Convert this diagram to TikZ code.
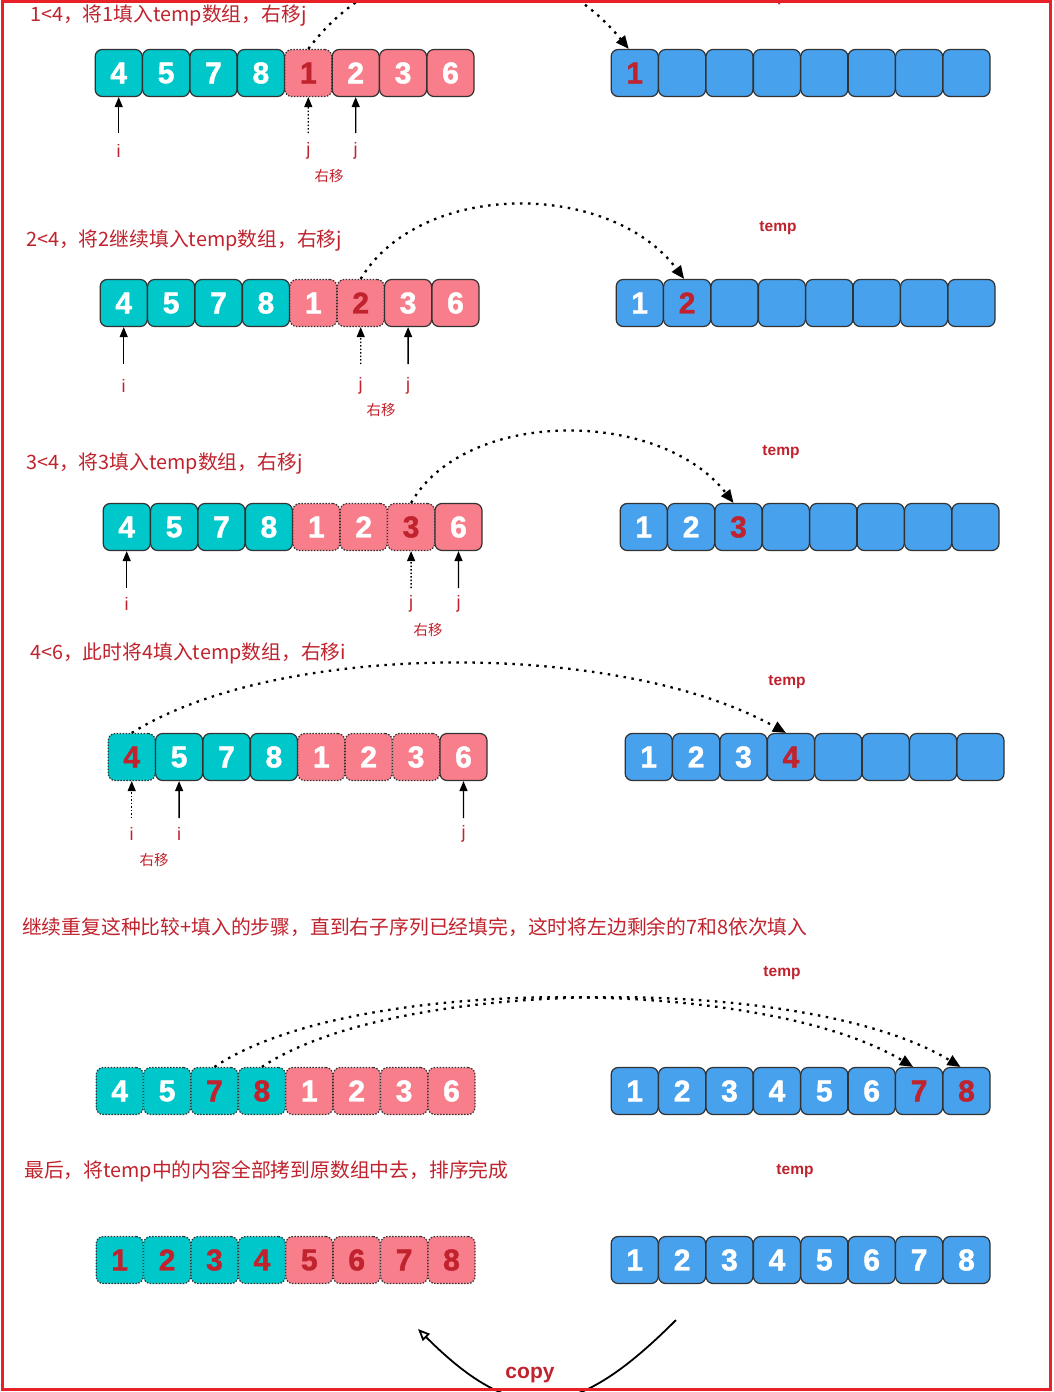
\documentclass[tikz,border=0pt]{standalone}
\usepackage{fontspec}
\setmainfont{Liberation Sans}
\newfontfamily\cjk{Noto Sans CJK SC}
\newfontfamily\numfont{Liberation Sans}[BoldFeatures={FakeBold=1.5}]
\usetikzlibrary{arrows.meta}
\definecolor{cteal}{RGB}{0,199,201}
\definecolor{cpink}{RGB}{247,126,138}
\definecolor{cblue}{RGB}{72,161,237}
\definecolor{cred}{RGB}{192,35,45}
\definecolor{cborder}{RGB}{50,50,50}
\definecolor{cframe}{RGB}{232,32,40}
\newcommand\arow[4]{%
  \foreach \v/\f/\t/\s [count=\k] in {#4} {%
    \node[cellbox,fill=\f,text=\t,\s] (#1\k) at ({#2+23.7+(\k-1)*47.4},#3) {\v};}}
\begin{document}
\begin{tikzpicture}[x=1pt,y=-1pt,
  cellbox/.style={minimum width=47pt,minimum height=47pt,inner sep=0pt,
    rounded corners=7pt,line width=1.2pt,font=\numfont\fontsize{30}{30}\selectfont\bfseries},
  solidbd/.style={draw=cborder},
  dotbd/.style={draw=cborder,dash pattern=on 1.5pt off 1.5pt},
  captxt/.style={anchor=west,inner sep=0pt,text=cred,font=\cjk\fontsize{19.8}{20}\selectfont},
  tmplbl/.style={text=cred,inner sep=0pt,font=\fontsize{15.5}{16}\selectfont\bfseries},
  ijlbl/.style={text=cred,inner sep=0pt,font=\fontsize{18}{18}\selectfont},
  mvlbl/.style={text=cred,inner sep=0pt,font=\cjk\fontsize{14.5}{15}\selectfont},
  ptrarr/.style={line width=1.3pt,-{Triangle[length=10pt,width=8pt]}},
  ptrdarr/.style={ptrarr,dash pattern=on 1.5pt off 2pt},
  jumparr/.style={line width=2.3pt,dash pattern=on 2.5pt off 5.5pt,-{Triangle[length=13pt,width=11pt]}},
  copyarr/.style={line width=1.8pt,-{Triangle[open,length=12pt,width=10pt]}}
]
\useasboundingbox (0,0) rectangle (1054,1392);
\fill[white] (0,0) rectangle (1054,1392);

% ---------- row 1 ----------
\node[captxt] (cap1) at (30,16) {1<4，将1填入temp数组，右移j};
\node[tmplbl,anchor=base] (tmp1) at (768,1.5) {temp};
\arow{r1a}{95}{73}{4/cteal/white/solidbd,5/cteal/white/solidbd,7/cteal/white/solidbd,8/cteal/white/solidbd,1/cpink/cred/dotbd,2/cpink/white/solidbd,3/cpink/white/solidbd,6/cpink/white/solidbd}
\arow{r1b}{611}{73}{1/cblue/cred/solidbd,{}/cblue/white/solidbd,{}/cblue/white/solidbd,{}/cblue/white/solidbd,{}/cblue/white/solidbd,{}/cblue/white/solidbd,{}/cblue/white/solidbd,{}/cblue/white/solidbd}
\coordinate (p1a) at (118.7,133);
\coordinate (p1b) at (308.3,133);
\coordinate (p1c) at (355.7,133);
\draw[ptrarr] (p1a) -- (r1a1.south);
\draw[ptrdarr] (p1b) -- (r1a5.south);
\draw[ptrarr] (p1c) -- (r1a6.south);
\node[ijlbl] (l1a) at (118.7,151) {i};
\node[ijlbl] (l1b) at (308.3,151) {j};
\node[ijlbl] (l1c) at (355.7,151) {j};
\node[mvlbl] (m1) at (329,176) {右移};
\draw[jumparr] (r1a5.north) .. controls (390,-60) and (540,-60) .. ([xshift=-6pt]r1b1.north);

% ---------- row 2 ----------
\node[captxt] (cap2) at (26,241) {2<4，将2继续填入temp数组，右移j};
\node[tmplbl] (tmp2) at (778,228) {temp};
\arow{r2a}{100}{303}{4/cteal/white/solidbd,5/cteal/white/solidbd,7/cteal/white/solidbd,8/cteal/white/solidbd,1/cpink/white/dotbd,2/cpink/cred/dotbd,3/cpink/white/solidbd,6/cpink/white/solidbd}
\arow{r2b}{616}{303}{1/cblue/white/solidbd,2/cblue/cred/solidbd,{}/cblue/white/solidbd,{}/cblue/white/solidbd,{}/cblue/white/solidbd,{}/cblue/white/solidbd,{}/cblue/white/solidbd,{}/cblue/white/solidbd}
\coordinate (p2a) at (123.7,364);
\coordinate (p2b) at (360.7,364);
\coordinate (p2c) at (408.1,364);
\draw[ptrarr] (p2a) -- (r2a1.south);
\draw[ptrdarr] (p2b) -- (r2a6.south);
\draw[ptrarr] (p2c) -- (r2a7.south);
\node[ijlbl] (l2a) at (123.7,386) {i};
\node[ijlbl] (l2b) at (360.7,386) {j};
\node[ijlbl] (l2c) at (408.1,386) {j};
\node[mvlbl] (m2) at (381,410) {右移};
\draw[jumparr] (r2a6.north) .. controls (420,180) and (610,180) .. ([xshift=-3pt]r2b2.north);

% ---------- row 3 ----------
\node[captxt] (cap3) at (26,464) {3<4，将3填入temp数组，右移j};
\node[tmplbl] (tmp3) at (781,452) {temp};
\arow{r3a}{103}{527}{4/cteal/white/solidbd,5/cteal/white/solidbd,7/cteal/white/solidbd,8/cteal/white/solidbd,1/cpink/white/dotbd,2/cpink/white/dotbd,3/cpink/cred/dotbd,6/cpink/white/solidbd}
\arow{r3b}{620}{527}{1/cblue/white/solidbd,2/cblue/white/solidbd,3/cblue/cred/solidbd,{}/cblue/white/solidbd,{}/cblue/white/solidbd,{}/cblue/white/solidbd,{}/cblue/white/solidbd,{}/cblue/white/solidbd}
\coordinate (p3a) at (126.7,588);
\coordinate (p3b) at (411.1,588);
\coordinate (p3c) at (458.5,588);
\draw[ptrarr] (p3a) -- (r3a1.south);
\draw[ptrdarr] (p3b) -- (r3a7.south);
\draw[ptrarr] (p3c) -- (r3a8.south);
\node[ijlbl] (l3a) at (126.7,604) {i};
\node[ijlbl] (l3b) at (411.1,604) {j};
\node[ijlbl] (l3c) at (458.5,604) {j};
\node[mvlbl] (m3) at (428,630) {右移};
\draw[jumparr] (r3a7.north) .. controls (465,408) and (660,408) .. ([xshift=-5pt]r3b3.north);

% ---------- row 4 ----------
\node[captxt] (cap4) at (30,653) {4<6，此时将4填入temp数组，右移i};
\node[tmplbl] (tmp4) at (787,682) {temp};
\arow{r4a}{108}{757}{4/cteal/cred/dotbd,5/cteal/white/solidbd,7/cteal/white/solidbd,8/cteal/white/solidbd,1/cpink/white/dotbd,2/cpink/white/dotbd,3/cpink/white/dotbd,6/cpink/white/solidbd}
\arow{r4b}{625}{757}{1/cblue/white/solidbd,2/cblue/white/solidbd,3/cblue/white/solidbd,4/cblue/cred/solidbd,{}/cblue/white/solidbd,{}/cblue/white/solidbd,{}/cblue/white/solidbd,{}/cblue/white/solidbd}
\coordinate (p4a) at (131.7,818);
\coordinate (p4b) at (179.1,818);
\coordinate (p4c) at (463.5,818);
\draw[ptrdarr] (p4a) -- (r4a1.south);
\draw[ptrarr] (p4b) -- (r4a2.south);
\draw[ptrarr] (p4c) -- (r4a8.south);
\node[ijlbl] (l4a) at (131.7,834) {i};
\node[ijlbl] (l4b) at (179.1,834) {i};
\node[ijlbl] (l4c) at (463.5,834) {j};
\node[mvlbl] (m4) at (154,860) {右移};
\draw[jumparr] (r4a1.north) .. controls (280,640) and (620,640) .. ([xshift=-5pt]r4b4.north);

% ---------- row 5 ----------
\node[captxt] (cap5) at (22,927) {继续重复这种比较+填入的步骤，直到右子序列已经填完，这时将左边剩余的7和8依次填入};
\node[tmplbl] (tmp5) at (782,973) {temp};
\arow{r5a}{96}{1091}{4/cteal/white/dotbd,5/cteal/white/dotbd,7/cteal/cred/dotbd,8/cteal/cred/dotbd,1/cpink/white/dotbd,2/cpink/white/dotbd,3/cpink/white/dotbd,6/cpink/white/dotbd}
\arow{r5b}{611}{1091}{1/cblue/white/solidbd,2/cblue/white/solidbd,3/cblue/white/solidbd,4/cblue/white/solidbd,5/cblue/white/solidbd,6/cblue/white/solidbd,7/cblue/cred/solidbd,8/cblue/cred/solidbd}
\draw[jumparr] (r5a3.north) .. controls (350,975) and (760,975) .. ([xshift=-6pt]r5b7.north);
\draw[jumparr] (r5a4.north) .. controls (400,975) and (810,975) .. ([xshift=-6pt]r5b8.north);

% ---------- row 6 ----------
\node[captxt] (cap6) at (24,1171) {最后，将temp中的内容全部拷到原数组中去，排序完成};
\node[tmplbl] (tmp6) at (795,1171) {temp};
\arow{r6a}{96}{1260}{1/cteal/cred/dotbd,2/cteal/cred/dotbd,3/cteal/cred/dotbd,4/cteal/cred/dotbd,5/cpink/cred/dotbd,6/cpink/cred/dotbd,7/cpink/cred/dotbd,8/cpink/cred/dotbd}
\arow{r6b}{611}{1260}{1/cblue/white/solidbd,2/cblue/white/solidbd,3/cblue/white/solidbd,4/cblue/white/solidbd,5/cblue/white/solidbd,6/cblue/white/solidbd,7/cblue/white/solidbd,8/cblue/white/solidbd}

% ---------- copy ----------
\coordinate (cs) at (676,1320);
\coordinate (ce) at (418,1329);
\draw[copyarr] (cs) .. controls (576,1420) and (518,1429) .. (ce);
\node[text=cred,font=\fontsize{21}{21}\selectfont\bfseries] (copy) at (530,1375) {copy};

% ---------- frame ----------
\draw[cframe,line width=3pt] (2,1.5) rectangle (1050.5,1389.5);
\end{tikzpicture}
\end{document}
